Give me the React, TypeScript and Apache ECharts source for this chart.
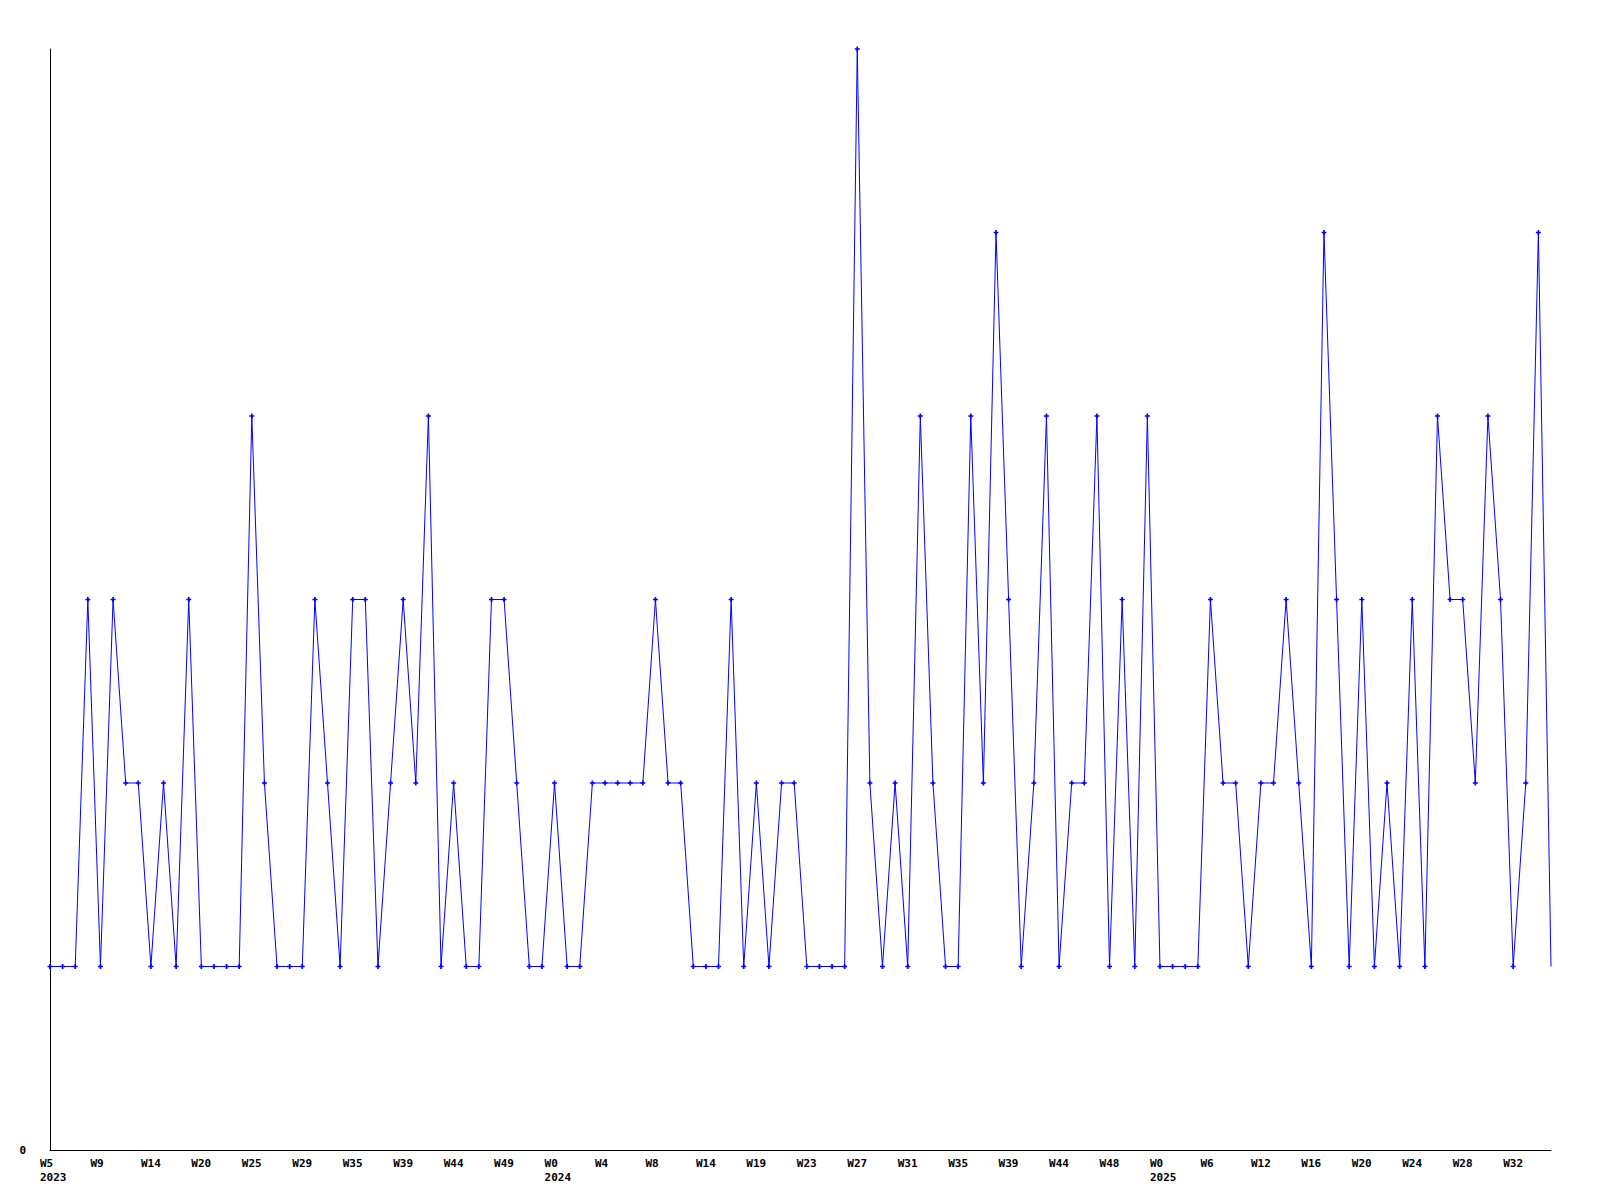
import React, { useEffect, useRef } from "react";
import * as echarts from "echarts";

const values: number[] = [
  1, 1, 1, 3, 1, 3, 2, 2, 1, 2,
  1, 3, 1, 1, 1, 1, 4, 2, 1, 1,
  1, 3, 2, 1, 3, 3, 1, 2, 3, 2,
  4, 1, 2, 1, 1, 3, 3, 2, 1, 1,
  2, 1, 1, 2, 2, 2, 2, 2, 3, 2,
  2, 1, 1, 1, 3, 1, 2, 1, 2, 2,
  1, 1, 1, 1, 6, 2, 1, 2, 1, 4,
  2, 1, 1, 4, 2, 5, 3, 1, 2, 4,
  1, 2, 2, 4, 1, 3, 1, 4, 1, 1,
  1, 1, 3, 2, 2, 1, 2, 2, 3, 2,
  1, 5, 3, 1, 3, 1, 2, 1, 3, 1,
  4, 3, 3, 2, 4, 3, 1, 2, 5, 1,
];

const weekLabels: string[] = [
  "W5", "W9", "W14", "W20", "W25", "W29", "W35", "W39", "W44", "W49",
  "W0", "W4", "W8", "W14", "W19", "W23", "W27", "W31", "W35", "W39", "W44", "W48",
  "W0", "W6", "W12", "W16", "W20", "W24", "W28", "W32",
];

const yearLabels: string[] = [
  "2023", "", "", "", "", "", "", "", "", "",
  "2024", "", "", "", "", "", "", "", "", "", "", "",
  "2025", "", "", "", "", "", "", "",
];

const LABEL_EVERY = 4;

export default function App() {
  const ref = useRef<HTMLDivElement>(null);
  useEffect(() => {
    document.body.style.margin = "0";
    const chart = echarts.init(ref.current!, null, { renderer: "svg" });
    const categories = values.map((_, i) => String(i));
    const seriesData = values.map((v, i) =>
      i === values.length - 1 ? { value: v, symbol: "none" } : v
    );
    const font = "'DejaVu Sans Mono', monospace";
    chart.setOption({
      animation: false,
      backgroundColor: "#ffffff",
      grid: { left: 50, right: 49, top: 49, bottom: 50, containLabel: false },
      xAxis: {
        type: "category",
        data: categories,
        boundaryGap: false,
        axisLine: { show: true, lineStyle: { color: "#000000", width: 1 } },
        axisTick: { show: false },
        splitLine: { show: false },
        axisLabel: {
          interval: LABEL_EVERY - 1,
          align: "left",
          padding: [0, 0, 0, -10],
          margin: 6,
          color: "#000000",
          fontFamily: font,
          fontWeight: "bold",
          fontSize: 11,
          lineHeight: 14,
          formatter: (_v: string, index: number) => {
            if (index % LABEL_EVERY !== 0) return "";
            const k = index / LABEL_EVERY;
            const w = weekLabels[k] ?? "";
            const y = yearLabels[k] ?? "";
            return y ? w + "\n" + y : w;
          },
        },
      },
      yAxis: {
        type: "value",
        min: 0,
        max: 6,
        interval: 6,
        axisLine: { show: true, lineStyle: { color: "#000000", width: 1 } },
        axisTick: { show: false },
        splitLine: { show: false },
        axisLabel: {
          margin: 24,
          color: "#000000",
          fontFamily: font,
          fontWeight: "bold",
          fontSize: 11,
          formatter: (v: number) => (v === 0 ? "0" : ""),
        },
      },
      series: [
        {
          type: "line",
          data: seriesData,
          symbol: "path://M2,0L4,0L4,2L6,2L6,4L4,4L4,6L2,6L2,4L0,4L0,2L2,2Z",
          symbolSize: 5,
          showAllSymbol: true,
          lineStyle: { color: "#0000ff", width: 1 },
          itemStyle: { color: "#0000ff" },
        },
      ],
    });
    return () => chart.dispose();
  }, []);
  return <div ref={ref} style={{ width: 1600, height: 1200 }} />;
}
